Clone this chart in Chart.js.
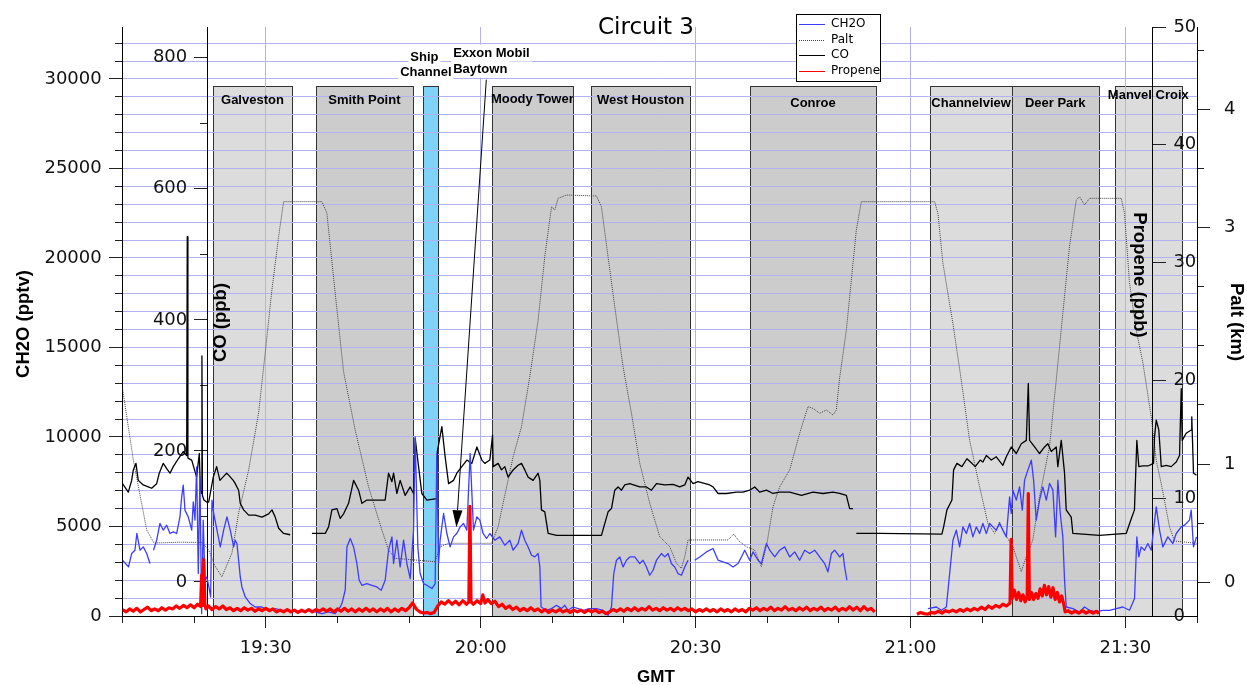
<!DOCTYPE html>
<html><head><meta charset="utf-8">
<script src="https://cdn.jsdelivr.net/npm/chart.js@4.4.1/dist/chart.umd.min.js"></script>
<style>html,body{margin:0;padding:0;background:#fff;}#wrap{position:relative;width:1247px;height:685px;}</style>
</head><body><div id="wrap"><canvas id="c" width="1247" height="685"></canvas></div>
<script>
// ---------- DATA (time = minutes after 19:00 GMT) ----------
const ch2oTime = [
10.00,10.84,11.28,11.74,12.00,12.44,12.90,13.38,13.84,14.05,
14.33,14.77,15.23,15.69,16.17,16.63,17.09,17.56,18.02,18.26,
18.48,18.72,19.18,19.66,19.88,20.12,20.35,20.58,20.81,21.05,
21.27,21.51,21.75,21.97,22.31,22.49,22.73,23.19,23.65,24.12,
24.58,25.04,25.52,25.74,25.98,26.44,26.67,27.14,27.83,28.53,
29.47,30.40,31.32,32.26,33.19,34.11,35.05,35.98,36.90,37.84,
38.77,39.69,40.39,40.63,41.09,41.33,41.79,42.26,42.72,43.04,
43.42,44.12,44.81,45.51,46.11,46.67,47.14,47.61,47.84,48.30,
48.76,49.24,49.70,50.16,50.63,50.86,51.23,51.55,52.03,52.49,
53.19,53.65,53.88,54.12,54.34,54.82,55.28,55.74,56.21,56.67,
57.14,57.61,58.07,58.53,59.00,59.47,59.88,60.34,60.82,61.28,
61.98,62.67,63.37,64.07,64.53,65.23,65.70,66.16,66.62,67.10,
67.56,68.02,68.26,68.44,69.19,69.89,70.59,71.28,71.74,72.20,
72.90,73.60,74.30,75.23,76.17,77.09,77.79,78.26,78.58,78.96,
79.42,79.88,80.35,80.81,81.51,82.21,82.67,83.14,83.60,84.07,
84.54,85.24,85.70,86.16,86.63,87.09,87.55,88.03,88.49,88.95,
89.40,89.88,90.58,91.52,92.44,93.14,93.83,94.53,95.23,95.93,
96.40,96.86,97.56,98.02,98.72,99.19,99.89,100.35,101.05,101.74,
102.44,103.14,103.84,104.53,105.23,105.93,106.63,107.32,108.02,108.48,
108.96,109.42,110.11,110.58,110.81,111.13,111.50,122.44,123.61,124.31,
125.01,125.47,125.93,126.40,126.86,127.32,127.80,128.26,128.72,129.19,
129.65,130.11,130.59,131.05,131.51,131.98,132.44,132.90,133.38,133.84,
134.07,134.30,134.77,135.23,135.61,135.93,136.39,136.87,137.19,137.56,
138.02,138.48,138.96,139.42,139.88,140.26,140.58,140.91,141.27,141.51,
141.75,142.67,143.60,144.30,145.00,145.93,146.86,147.79,148.72,149.65,
150.58,151.28,151.60,151.88,152.21,152.67,153.14,153.61,153.93,154.31,
154.77,155.23,155.93,156.63,157.10,157.80,158.26,158.95,159.19,159.51,
159.93];
const ch2oPptv = [
3115,2741,3490,3675,4609,3675,3859,3490,2931,null,
3675,4234,5168,4793,5073,4609,4698,4609,5537,6656,
7310,5912,5537,4793,6376,5353,8334,2371,7774,134,
5353,1997,2181,1812,1063,6471,5727,4793,3859,4793,
5537,4793,3859,4234,4049,2181,1622,1063,694,503,
503,319,414,319,319,319,224,319,224,134,
224,134,503,694,1437,3859,4329,3859,2931,1997,
1717,1812,1717,1622,1437,1997,3675,4418,2931,4234,
2741,4234,2931,2092,4793,10011,3859,2371,1812,1717,
1532,1812,9083,2931,4234,5727,4609,3859,4418,4609,
4978,5168,4793,9083,4793,5537,5353,4609,4329,4609,
4234,4418,3954,4234,3675,4049,4793,4234,3859,3395,
3300,3490,2741,503,319,414,598,414,598,319,
503,414,319,414,414,319,39,503,2371,3115,
3300,2741,3115,3300,3300,2931,3115,2741,2276,2556,
3115,3490,3300,3490,2931,2741,2371,2276,2741,3115,
null,3115,3300,3580,3770,3115,3020,2931,2741,2931,
3300,3675,3115,3580,3115,2931,4049,3675,3300,3675,
3859,3300,3580,3115,3675,3490,3675,3300,2931,2461,
3490,3675,3300,3490,2741,1997,null,414,503,319,
503,2371,4234,4793,3859,4978,4609,5168,4418,4978,
4609,5168,4609,5168,4978,4793,5168,4793,4418,6656,
5727,7030,6471,7215,5912,7590,8149,8708,7590,5353,
6471,7215,6471,7405,7030,4418,7590,5727,4418,1997,
503,414,224,503,319,224,319,319,414,503,
319,973,4418,3300,3859,3675,4049,3675,4793,6096,
4793,3859,4418,4049,4609,4978,5073,5353,5912,3859,
4418];

const coTime = [
10.00,10.81,11.28,11.51,11.88,12.20,12.90,13.60,14.07,14.77,
15.13,15.69,16.17,16.63,17.09,17.79,18.48,18.96,19.04,19.13,
19.66,20.35,20.72,20.88,21.05,21.09,21.16,21.37,21.75,22.03,
22.67,23.14,23.60,24.54,24.82,25.46,25.74,26.21,26.44,26.91,
27.61,28.53,29.47,30.40,30.86,31.32,31.80,32.49,33.41,34.90,
36.44,38.30,38.77,39.23,39.93,40.39,40.87,41.56,42.26,42.96,
43.42,44.12,45.27,46.67,47.14,47.61,47.84,48.30,48.76,49.46,
50.16,50.63,50.86,51.33,51.79,52.49,53.88,53.95,54.58,55.04,
55.52,56.21,56.67,57.37,58.07,58.77,59.47,60.16,60.58,61.28,
61.66,61.74,62.44,62.91,63.37,63.83,64.53,65.23,65.70,66.16,
66.62,67.32,68.02,68.26,68.49,68.95,69.42,70.59,76.86,77.32,
77.79,78.26,78.72,79.18,79.66,80.12,80.81,82.21,83.14,83.84,
84.54,85.70,86.86,87.79,88.49,88.95,89.65,90.34,91.98,92.44,
93.14,94.31,95.70,96.62,97.56,98.26,98.95,99.89,100.81,101.74,
103.14,104.77,106.39,107.79,109.18,110.11,111.05,111.51,111.97,112.20,
112.44,115.70,124.39,124.63,125.09,125.79,126.02,126.49,127.18,127.88,
128.58,129.04,129.74,130.11,130.59,131.29,131.98,132.90,133.38,134.07,
134.77,135.47,136.17,136.45,136.63,137.33,138.02,138.72,139.18,139.66,
140.35,140.57,141.05,141.51,141.74,142.44,142.67,146.39,150.12,150.81,
151.27,151.60,151.88,152.44,153.14,153.93,154.07,154.31,154.67,155.01,
155.70,156.40,157.10,157.56,157.80,157.94,158.49,159.19,159.27,159.51,
159.93];
const coPpb = [
150,137,155,171,181,155,148,145,143,150,
166,181,173,166,176,188,199,193,527,189,
186,160,196,140,135,345,132,125,122,122,
160,176,155,166,163,155,150,140,120,110,
102,102,99,104,110,99,82,74,72,null,
74,74,84,110,112,97,104,120,155,140,
120,125,125,125,166,153,166,135,155,132,
145,135,219,176,135,125,127,199,237,191,
150,155,166,176,186,181,206,186,181,186,
224,176,181,171,176,160,171,178,181,171,
160,155,166,155,110,107,74,71,71,89,
107,112,140,145,140,148,150,145,145,140,
150,148,149,145,148,160,150,153,148,145,
135,135,137,137,140,145,137,140,135,137,
137,132,137,135,137,135,132,112,112,null,
74,74,73,84,110,125,171,181,176,188,
181,176,186,183,193,186,191,178,191,206,
196,211,216,303,216,206,196,206,211,199,
206,176,216,166,110,99,74,71,74,96,
110,216,176,177,177,181,221,247,232,176,
178,176,183,193,295,216,227,232,252,166,
163];

const paltTime = [
10.00,11.51,13.38,14.40,18.02,21.09,22.03,22.91,23.88,25.28,
26.21,27.61,29.00,29.92,30.86,31.79,32.49,37.84,38.53,39.69,
40.86,42.48,44.35,46.21,47.14,48.06,53.64,54.34,55.51,61.52,
62.44,63.13,64.53,65.70,66.86,68.02,68.95,69.89,70.35,70.81,
71.98,76.16,76.86,77.78,78.72,79.88,81.05,82.21,83.60,85.00,
86.39,87.33,88.02,88.49,88.95,94.53,95.32,96.16,97.09,98.25,
99.19,99.97,100.81,101.74,103.14,104.53,105.69,106.39,107.32,108.26,
109.18,109.65,110.11,111.05,111.75,112.44,113.14,123.37,123.83,124.53,
125.92,127.09,128.25,129.65,130.81,131.74,132.44,133.14,134.29,135.47,
136.16,137.08,138.02,139.41,140.35,141.27,142.20,143.14,143.60,144.30,
145.00,149.42,149.88,150.58,151.51,152.43,153.61,154.30,155.00,156.16,
156.86,159.93];
const paltKm = [
1.641,1.034,0.442,0.332,0.339,0.337,0.273,0.138,0.047,0.248,
0.586,0.950,1.432,1.939,2.473,2.923,3.219,3.219,3.123,2.447,
1.781,1.288,0.808,0.442,0.273,0.203,0.174,0.301,0.330,0.330,
0.470,0.668,1.062,1.316,1.739,2.218,2.754,3.176,3.149,3.247,
3.275,3.267,3.176,2.754,2.331,1.823,1.429,1.006,0.668,0.386,
0.301,0.161,0.118,0.216,0.358,0.358,0.408,0.343,0.301,0.273,
0.132,0.330,0.639,0.808,0.950,1.260,1.485,1.471,1.429,1.457,
1.415,1.457,1.728,2.134,2.557,2.979,3.219,3.219,3.121,2.698,
2.190,1.711,1.203,0.808,0.499,0.414,0.512,0.414,0.301,0.090,
0.216,0.358,0.724,1.147,1.711,2.275,2.838,3.233,3.261,3.191,
3.247,3.247,3.121,2.531,2.134,1.863,1.400,1.034,0.837,0.470,
0.349,0.330];

const propeneTime = [
10,10.5,11,11.5,12,12.5,13,13.5,14,14.5,
15,15.5,16,16.5,17,17.5,18,18.5,19,19.5,
20,20.5,20.9,21.05,21.2,21.35,21.5,21.65,22,22.5,
23,23.5,24,24.5,25,25.5,26,26.5,27,27.5,
28,28.5,29,29.5,30,30.5,31,31.5,32,32.5,
33,33.5,34,34.5,35,35.5,36,36.5,37,37.5,
38,38.5,39,39.5,40,40.5,41,41.5,42,42.5,
43,43.5,44,44.5,45,45.5,46,46.5,47,47.5,
48,48.5,49,49.5,50,50.5,51,51.5,52,52.5,
53,53.5,54,54.5,55,55.5,56,56.5,57,57.5,
58,58.35,58.5,58.65,59,59.5,60,60.3,60.6,61,
61.5,62,62.5,63,63.5,64,64.5,65,65.5,66,
66.5,67,67.5,68,68.5,69,69.5,70,70.5,71,
71.5,72,72.5,73,73.5,74,74.5,75,75.5,76,
76.5,77,77.5,78,78.5,79,79.5,80,80.5,81,
81.5,82,82.5,83,83.5,84,84.5,85,85.5,86,
86.5,87,87.5,88,88.5,89,89.5,90,90.5,91,
91.5,92,92.5,93,93.5,94,94.5,95,95.5,96,
96.5,97,97.5,98,98.5,99,99.5,100,100.5,101,
101.5,102,102.5,103,103.5,104,104.5,105,105.5,106,
106.5,107,107.5,108,108.5,109,109.5,110,110.5,111,
111.5,112,112.5,113,113.5,114,114.5,115,118,120.9,
121.4,121.9,122.4,122.9,123.4,123.9,124.4,124.9,125.4,125.9,
126.4,126.9,127.4,127.9,128.4,128.9,129.4,129.9,130.4,130.9,
131.4,131.9,132.4,132.9,133.4,133.9,134.05,134.2,134.5,134.8,
135.1,135.4,135.7,136.0,136.3,136.45,136.6,136.9,137.2,137.5,
137.8,138.1,138.4,138.7,139.0,139.3,139.6,139.9,140.2,140.5,
140.8,141.1,141.4,141.6,142,142.5,143,143.5,144,144.5,
145,145.5,146,146.3];
const propenePpb = [
0.55,0.35,0.6,0.4,0.65,0.35,0.55,0.75,0.45,0.6,
0.45,0.7,0.5,0.7,0.6,0.85,0.65,0.9,0.7,0.95,
0.7,1.0,0.8,3.5,0.9,4.8,1.0,0.6,0.85,0.55,
0.8,0.6,0.85,0.55,0.7,0.45,0.65,0.45,0.7,0.5,
0.65,0.4,0.6,0.45,0.65,0.45,0.6,0.35,0.5,0.35,
0.55,0.35,0.5,0.3,0.5,0.35,0.55,0.35,0.55,0.4,
0.6,0.4,0.6,0.35,0.6,0.4,0.65,0.4,0.6,0.35,
0.6,0.4,0.65,0.4,0.6,0.35,0.6,0.4,0.65,0.35,
0.6,0.4,0.65,0.45,0.7,1.1,0.6,0.35,0.25,0.3,
0.2,0.3,0.85,1.2,1.0,1.3,1.0,1.25,0.95,1.3,
1.0,1.2,9.3,1.2,1.0,1.3,1.05,1.8,1.1,1.4,
1.05,1.25,0.8,1.0,0.65,0.85,0.55,0.75,0.45,0.65,
0.45,0.7,0.45,0.6,0.35,0.55,0.3,0.5,0.35,0.55,
0.35,0.5,0.3,0.5,0.35,0.5,0.3,0.5,0.35,0.5,
0.3,0.4,0.2,0.35,0.55,0.4,0.6,0.4,0.65,0.45,
0.7,0.45,0.65,0.5,0.8,0.5,0.65,0.45,0.7,0.5,
0.65,0.45,0.7,0.5,0.65,0.45,0.6,0.35,0.55,0.4,
0.6,0.4,0.55,0.35,0.6,0.4,0.55,0.35,0.6,0.4,
0.55,0.35,0.65,0.5,0.7,0.45,0.65,0.5,0.75,0.45,
0.65,0.5,0.8,0.5,0.65,0.45,0.7,0.5,0.75,0.45,
0.65,0.5,0.75,0.45,0.65,0.5,0.75,0.45,0.65,0.5,
0.8,0.5,0.75,0.45,0.8,0.5,0.65,0.35,null,0.15,
0.3,0.2,0.15,0.3,0.25,0.4,0.25,0.45,0.35,0.5,
0.35,0.55,0.4,0.6,0.45,0.65,0.5,0.75,0.55,0.85,
0.65,0.9,0.75,1.0,0.85,1.1,6.5,1.5,2.2,1.4,
2.0,1.3,1.8,1.2,1.7,10.4,1.4,2.0,1.4,1.9,
1.5,2.3,1.7,2.6,1.8,2.5,1.6,2.4,1.4,2.0,
1.2,1.7,1.0,0.35,0.45,0.25,0.4,0.25,0.45,0.25,
0.4,0.25,0.4,0.2];

// tick positions / labels
const timeMinorTicks = [10,20,30,40,50,60,70,80,90,100,110,120,130,140,150,160];
const timeTickValues = [30,60,90,120,150];
const timeTickLabels = ['19:30','20:00','20:30','21:00','21:30'];
const ch2oMinorTicks = [0,1000,2000,3000,4000,5000,6000,7000,8000,9000,10000,11000,12000,13000,14000,15000,16000,
  17000,18000,19000,20000,21000,22000,23000,24000,25000,26000,27000,28000,29000,30000,31000,32000];
const ch2oTicks = [0,5000,10000,15000,20000,25000,30000];
const coMinorTicks = [100,300,500,700];
const coTicks = [0,200,400,600,800];
const propeneTicks = [0,10,20,30,40,50];
const paltMinorTicks = [0.5,1.5,2,2.5,3.5,4.5];
const paltTicks = [0,1,3,4];

// sampled regions (start / end, minutes after 19:00)
const regionNames = ['Galveston','Smith Point','Ship Channel','Moody Tower','West Houston','Conroe','Channelview','Deer Park','Manvel Croix'];
const regionStart = [22.63,37.00,51.89,61.52,75.37,97.56,122.77,134.16,148.53];
const regionEnd   = [33.65,50.53,54.02,72.90,89.28,115.24,134.16,146.26,157.88];

// ---------- STYLE / LAYOUT ----------
const regionShade = ['#dcdcdc','#cccccc','#7fd3f9','#cccccc','#cccccc','#cccccc','#dcdcdc','#cccccc','#dcdcdc'];
const regionLabelLevel = [28790,28790,null,28840,28790,28620,28620,28620,29070]; // in CH2O-axis units
const BOX_TOP = 29626;
const GRID = '#b2b2f2';
const TICKFONT = {family:'DejaVu Sans', size:18};
const BOLD = '"Liberation Sans", Arial, sans-serif';

function setTicks(list){ return s => { s.ticks = list.map(v => ({value:v})); }; }
const pts = (ts, vs) => ts.map((t,i) => ({x:t, y:(vs[i] === undefined ? null : vs[i])}));

function markScale(axis, min, max, pos, list, len, border){
  return {type:'linear', axis, min, max, position:pos, afterBuildTicks:setTicks(list),
    grid:{display:true, drawOnChartArea:false, drawTicks:true, tickLength:len, tickColor:'#222', tickWidth:1},
    border:{display:!!border, color:'#000', width:1}, ticks:{display:false}};
}
function labelScale(min, max, pos, list, fmt){
  return {type:'linear', axis:'y', min, max, position:pos, afterBuildTicks:setTicks(list),
    grid:{display:false, drawTicks:false}, border:{display:false},
    ticks:{display:true, padding:0, autoSkip:false, font:TICKFONT, color:'#111', callback:fmt}};
}

const CO_MIN=-52, CO_MAX=847, H_MIN=0, H_MAX=32900, P_MIN=0, P_MAX=50, A_MIN=-0.285, A_MAX=4.696;

const scales = {
  x: {type:'linear', axis:'x', min:10, max:160, position:{yH:0}, afterBuildTicks:setTicks(timeMinorTicks),
      grid:{display:true, drawOnChartArea:true, lineWidth:1,
            color:c => (c.tick && timeTickValues.indexOf(c.tick.value) >= 0) ? GRID : 'rgba(0,0,0,0)',
            drawTicks:true, tickLength:6, tickColor:'#222', tickWidth:1},
      border:{display:true, color:'#000', width:1}, ticks:{display:false}},
  xLab: {type:'linear', axis:'x', min:10, max:160, position:{yH:0}, afterBuildTicks:setTicks(timeTickValues),
      grid:{display:true, drawOnChartArea:false, drawTicks:true, tickLength:12, tickColor:'#222'},
      border:{display:false},
      ticks:{display:true, autoSkip:false, maxRotation:0, minRotation:0, padding:10, font:TICKFONT, color:'#111',
             callback:v => timeTickLabels[timeTickValues.indexOf(v)]}},
  yH: {type:'linear', axis:'y', min:H_MIN, max:H_MAX, position:{x:10}, afterBuildTicks:setTicks(ch2oMinorTicks),
      grid:{display:true, drawOnChartArea:true, color:GRID, lineWidth:1, drawTicks:true, tickLength:7, tickColor:'#222'},
      border:{display:true, color:'#000', width:1}, ticks:{display:false}},
  yHmaj: markScale('y', H_MIN, H_MAX, {x:10}, ch2oTicks, 14, false),
  yHlab: labelScale(H_MIN, H_MAX, {x:7.10}, ch2oTicks, v => String(v)),
  yC: markScale('y', CO_MIN, CO_MAX, {x:21.83}, coMinorTicks, 7, true),
  yCmaj: markScale('y', CO_MIN, CO_MAX, {x:21.83}, coTicks, 13, false),
  yClab: labelScale(CO_MIN, CO_MAX, {x:19.04}, coTicks, v => String(v)),
  yP: markScale('y', P_MIN, P_MAX, {x:153.83}, propeneTicks, -14, true),
  yPlab: labelScale(P_MIN, P_MAX, {x:159.9}, propeneTicks, v => v === 0 ? '0\u2007' : String(v)),
  yA: markScale('y', A_MIN, A_MAX, {x:160}, paltMinorTicks, -7, true),
  yAmaj: markScale('y', A_MIN, A_MAX, {x:160}, paltTicks, -13, false),
  yAlab: labelScale(A_MIN, A_MAX, {x:165.37}, paltTicks, v => String(v)),
};

function whiteText(ctx, s, x, y, align){
  const w = ctx.measureText(s).width;
  const left = align === 'left' ? x : x - w/2;
  ctx.fillStyle = '#fff';
  ctx.fillRect(left - 2, y - 9, w + 4, 17);
  ctx.fillStyle = '#000';
  ctx.textAlign = align; ctx.fillText(s, x, y);
}
function rotText(ctx, s, x, y, ang, font){
  ctx.save(); ctx.translate(x, y); ctx.rotate(ang); ctx.font = font;
  ctx.textAlign = 'center'; ctx.textBaseline = 'middle'; ctx.fillStyle = '#000';
  ctx.fillText(s, 0, 0); ctx.restore();
}

const decor = {
  id:'decor',
  beforeDraw(chart){
    const {ctx, chartArea:a, scales:s} = chart;
    ctx.save();
    ctx.fillStyle = '#fff'; ctx.fillRect(0, 0, chart.width, chart.height);
    const top = Math.round(s.yH.getPixelForValue(BOX_TOP));
    for (let i = 0; i < regionNames.length; i++){
      const x0 = Math.round(s.x.getPixelForValue(regionStart[i]));
      const x1 = Math.round(s.x.getPixelForValue(regionEnd[i]));
      ctx.fillStyle = regionShade[i];
      ctx.fillRect(x0, top, x1 - x0, a.bottom - top);
    }
    ctx.strokeStyle = '#333'; ctx.lineWidth = 1;
    for (let i = 0; i < regionNames.length; i++){
      const x0 = Math.round(s.x.getPixelForValue(regionStart[i]));
      const x1 = Math.round(s.x.getPixelForValue(regionEnd[i]));
      ctx.strokeRect(x0 + 0.5, top + 0.5, x1 - x0, Math.round(a.bottom) - top);
    }
    ctx.restore();
  },
  afterDraw(chart){
    const {ctx, chartArea:a, scales:s} = chart;
    ctx.save();
    // region labels
    ctx.font = 'bold 13px ' + BOLD; ctx.textBaseline = 'middle'; ctx.fillStyle = '#000'; ctx.textAlign = 'center';
    for (let i = 0; i < regionNames.length; i++){
      if (regionLabelLevel[i] === null) continue;
      const xc = (s.x.getPixelForValue(regionStart[i]) + s.x.getPixelForValue(regionEnd[i])) / 2;
      ctx.fillText(regionNames[i], xc, s.yH.getPixelForValue(regionLabelLevel[i]));
    }
    // Ship Channel label above its box
    whiteText(ctx, 'Ship', s.x.getPixelForValue(52.14), s.yH.getPixelForValue(31190), 'center');
    whiteText(ctx, 'Channel', s.x.getPixelForValue(52.35), s.yH.getPixelForValue(30350), 'center');
    // Exxon Mobil Baytown annotation + arrow
    whiteText(ctx, 'Exxon Mobil', s.x.getPixelForValue(56.16), s.yH.getPixelForValue(31420), 'left');
    whiteText(ctx, 'Baytown', s.x.getPixelForValue(56.16), s.yH.getPixelForValue(30520), 'left');
    const tx = s.x.getPixelForValue(60.79), ty = s.yH.getPixelForValue(29960);
    const hx = s.x.getPixelForValue(56.61), hy = s.yH.getPixelForValue(4961);
    const ang = Math.atan2(hy - ty, hx - tx), L = 17, W = 5;
    const bx = hx - L*Math.cos(ang), by = hy - L*Math.sin(ang);
    ctx.strokeStyle = '#000'; ctx.lineWidth = 1;
    ctx.beginPath(); ctx.moveTo(tx, ty); ctx.lineTo(bx, by); ctx.stroke();
    ctx.beginPath(); ctx.moveTo(hx, hy);
    ctx.lineTo(bx + W*Math.sin(ang), by - W*Math.cos(ang));
    ctx.lineTo(bx - W*Math.sin(ang), by + W*Math.cos(ang));
    ctx.closePath(); ctx.fillStyle = '#000'; ctx.fill();
    // title and axis titles
    ctx.font = '23px "DejaVu Sans"'; ctx.textAlign = 'center'; ctx.textBaseline = 'middle';
    ctx.fillText('Circuit 3', 646, 28);
    ctx.font = 'bold 17px ' + BOLD;
    ctx.fillText('GMT', 656, 677);
    rotText(ctx, 'CH2O (pptv)', 24, 324, -Math.PI/2, 'bold 18.5px ' + BOLD);
    rotText(ctx, 'CO (ppb)', 220.5, 322.5, -Math.PI/2, 'bold 18.5px ' + BOLD);
    rotText(ctx, 'Propene (ppb)', 1139.5, 275, Math.PI/2, 'bold 18.5px ' + BOLD);
    rotText(ctx, 'Palt (km)', 1236, 322, Math.PI/2, 'bold 18.5px ' + BOLD);
    // legend box
    const order = ['CH2O','Palt','CO','Propene'];
    ctx.fillStyle = '#fff'; ctx.fillRect(796, 14, 84, 67);
    ctx.strokeStyle = '#000'; ctx.lineWidth = 1; ctx.strokeRect(796.5, 14.5, 84, 67);
    ctx.font = '12px "DejaVu Sans"'; ctx.textAlign = 'left'; ctx.textBaseline = 'middle';
    order.forEach((name, k) => {
      const ds = chart.data.datasets.find(d => d.label === name);
      const y = 24 + k * 15.6;
      ctx.strokeStyle = ds.borderColor; ctx.lineWidth = 1;
      ctx.setLineDash(ds.borderDash || []);
      ctx.beginPath(); ctx.moveTo(799, Math.round(y) + 0.5); ctx.lineTo(825, Math.round(y) + 0.5); ctx.stroke();
      ctx.setLineDash([]);
      ctx.fillStyle = '#000'; ctx.fillText(name, 831, y);
    });
    ctx.restore();
  }
};

Chart.defaults.font.family = "'DejaVu Sans', sans-serif";
new Chart(document.getElementById('c'), {
  type:'line',
  data:{datasets:[
    {label:'Propene', data:pts(propeneTime, propenePpb), xAxisID:'x', yAxisID:'yP', borderColor:'#ff0000', borderWidth:3.2, order:1},
    {label:'CH2O', data:pts(ch2oTime, ch2oPptv), xAxisID:'x', yAxisID:'yH', borderColor:'#3c3cff', borderWidth:1.3, order:2},
    {label:'CO', data:pts(coTime, coPpb), xAxisID:'x', yAxisID:'yC', borderColor:'#000000', borderWidth:1.3, order:3},
    {label:'Palt', data:pts(paltTime, paltKm), xAxisID:'x', yAxisID:'yA', borderColor:'#444444', borderWidth:1, borderDash:[1,1], order:4}
  ]},
  options:{
    responsive:false, animation:false, devicePixelRatio:1,
    layout:{padding:{left:122.5, right:50, top:27, bottom:69}},
    elements:{point:{radius:0, hoverRadius:0}, line:{tension:0, fill:false, borderJoinStyle:'round'}},
    spanGaps:false,
    plugins:{legend:{display:false}, tooltip:{enabled:false}, title:{display:false}},
    events:[],
    scales
  },
  plugins:[decor]
});
</script></body></html>
